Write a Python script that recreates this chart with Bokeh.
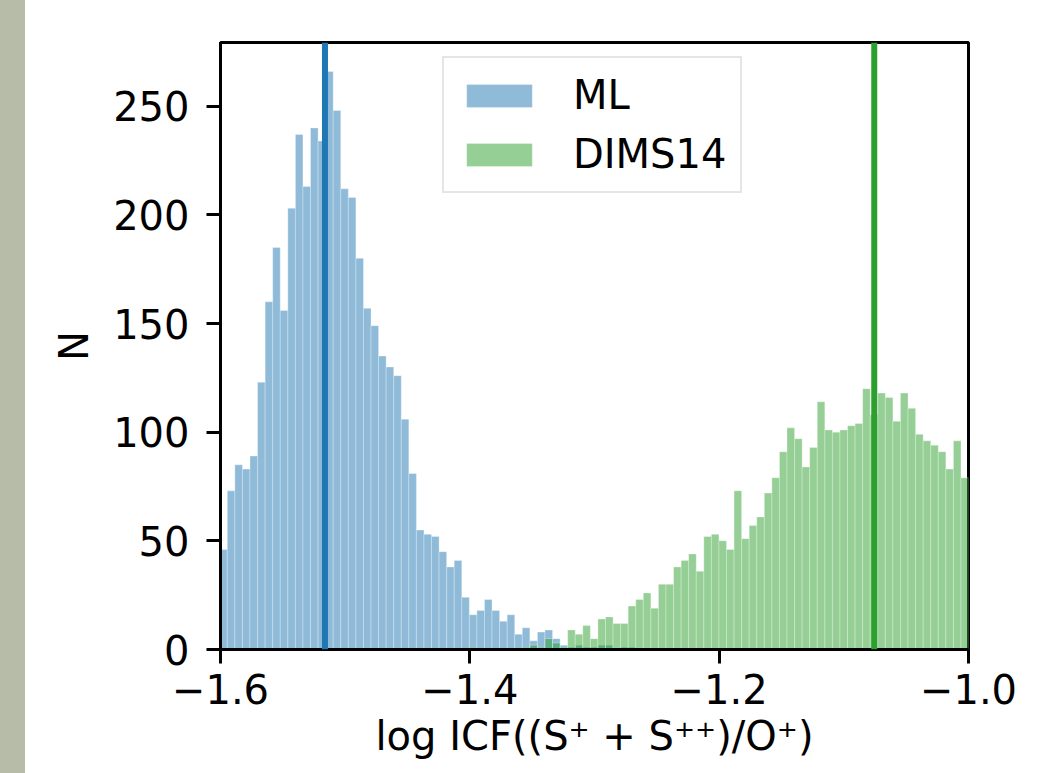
from bokeh.plotting import figure
from bokeh.models import Span, Legend, LegendItem, FixedTicker, Div
from bokeh.layouts import row
from bokeh.embed import file_html
from bokeh.resources import INLINE

# ---- data ----
first_edge = -1.6006
bin_width = 0.006067

ml_counts = [46, 73, 85, 83, 89, 123, 160, 185, 156, 203,
             237, 213, 240, 234, 266, 248, 212, 208, 180, 157,
             149, 135, 130, 126, 106, 81, 55, 53, 52, 45,
             38, 41, 24, 16, 18, 23, 18, 13, 16, 7,
             10, 4, 8, 9, 5, 2, 1, 2, 1, 1,
             2, 2, 0, 1, 1, 0, 0, 0, 0, 0,
             0, 0, 0, 0, 0, 0, 0, 0, 0, 0,
             0, 0, 0, 0, 0, 0, 0, 0, 0, 0,
             0, 0, 0, 0, 0, 0, 0, 0, 0, 0,
             0, 0, 0, 0, 0, 0, 0, 0, 0]

dims_counts = [0, 0, 0, 0, 0, 0, 0, 0, 0, 0,
               0, 0, 0, 0, 0, 0, 0, 0, 0, 0,
               0, 0, 0, 0, 0, 0, 0, 0, 0, 0,
               0, 0, 0, 1, 0, 0, 0, 0, 0, 0,
               1, 2, 1, 5, 3, 1, 9, 7, 11, 5,
               14, 15, 12, 12, 20, 23, 26, 19, 30, 30,
               38, 41, 44, 36, 52, 53, 50, 46, 73, 51,
               57, 61, 72, 79, 91, 102, 97, 84, 93, 114,
               101, 100, 101, 103, 104, 120, 108, 118, 116, 105,
               118, 111, 99, 96, 94, 91, 83, 96, 79]

ml_median = -1.5162
dims_median = -1.0756

x_ticks = [-1.6, -1.4, -1.2, -1.0]
x_tick_labels = ["\u22121.6", "\u22121.4", "\u22121.2", "\u22121.0"]
y_ticks = [0, 50, 100, 150, 200, 250]

series_labels = ["ML", "DIMS14"]
x_label = "log ICF((S\u207a + S\u207a\u207a)/O\u207a)"
y_label = "N"

# ---- figure ----
FONT = "DejaVu Sans"
FS = "40px"

lefts = [first_edge + i * bin_width for i in range(len(ml_counts))]
rights = [l + bin_width for l in lefts]

p = figure(width=1038, height=773, x_range=(-1.6, -1.0), y_range=(0, 279.3),
           output_backend="svg", toolbar_location=None,
           min_border_left=195, min_border_right=95,
           min_border_top=42, min_border_bottom=124)
p.background_fill_color = "white"
p.border_fill_color = "white"
p.outline_line_color = "black"
p.outline_line_width = 3
p.xgrid.grid_line_color = None
p.ygrid.grid_line_color = None

r_ml = p.quad(left=lefts, right=rights, bottom=0, top=ml_counts,
              fill_color="#1f77b4", fill_alpha=0.5,
              line_color="white", line_alpha=0.3, line_width=1)
r_dims = p.quad(left=lefts, right=rights, bottom=0, top=dims_counts,
                fill_color="#2ca02c", fill_alpha=0.5,
                line_color="white", line_alpha=0.3, line_width=1)

p.add_layout(Span(location=ml_median, dimension="height",
                  line_color="#1f77b4", line_width=6))
p.add_layout(Span(location=dims_median, dimension="height",
                  line_color="#2ca02c", line_width=6))

for ax in (p.xaxis[0], p.yaxis[0]):
    ax.axis_line_width = 3
    ax.axis_line_color = "black"
    ax.major_tick_line_width = 3
    ax.major_tick_line_color = "black"
    ax.major_tick_out = 14
    ax.major_tick_in = 0
    ax.minor_tick_line_color = None
    ax.major_label_text_font = FONT
    ax.major_label_text_font_size = FS
    ax.major_label_text_color = "black"
    ax.axis_label_text_font = FONT
    ax.axis_label_text_font_size = FS
    ax.axis_label_text_font_style = "normal"
    ax.axis_label_text_color = "black"

p.xaxis.ticker = FixedTicker(ticks=x_ticks)
p.xaxis.major_label_overrides = {t: s for t, s in zip(x_ticks, x_tick_labels)}
p.xaxis.major_label_standoff = 10
p.xaxis.axis_label = x_label
p.xaxis.axis_label_standoff = 6

p.yaxis.ticker = FixedTicker(ticks=y_ticks)
p.yaxis.major_label_standoff = 17
p.yaxis.axis_label = y_label
p.yaxis.axis_label_standoff = 13

legend = Legend(items=[LegendItem(label=series_labels[0], renderers=[r_ml]),
                       LegendItem(label=series_labels[1], renderers=[r_dims])],
                location=(222, 456))
legend.label_text_font = FONT
legend.label_text_font_size = FS
legend.label_text_color = "black"
legend.glyph_width = 82
legend.glyph_height = 29
legend.label_standoff = 33
legend.padding = 14
legend.spacing = 13
legend.margin = 0
legend.border_line_color = "#cccccc"
legend.border_line_width = 2
legend.background_fill_color = "white"
legend.background_fill_alpha = 0.8
p.add_layout(legend)

strip = Div(text="", width=25, height=773, margin=0,
            styles={"background-color": "#b6bca8", "width": "25px", "height": "773px"})
p.margin = 0

layout = row(strip, p, spacing=0)
open("out.html", "w").write(file_html(layout, INLINE))
